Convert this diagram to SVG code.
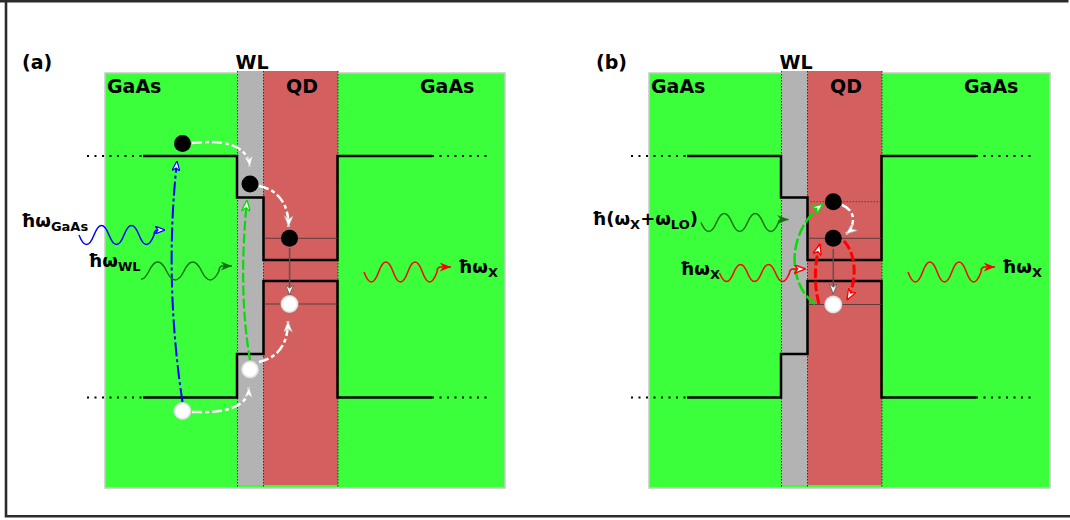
<svg xmlns="http://www.w3.org/2000/svg" width="1070" height="520" viewBox="0 0 1070 520">
<style>
.frame{fill:none;stroke:#2b2b2b;stroke-width:2.6}
.gaas{fill:#3cff3c;stroke:#c8c8c8;stroke-width:1.5}
.wl{fill:#b3b3b3}
.qd{fill:#d45f5f}
.edge{fill:none;stroke:#333;stroke-width:1;stroke-dasharray:1.5 1.5}
.band{fill:none;stroke:#000;stroke-width:2.5}
.dots{fill:none;stroke:#000;stroke-width:2;stroke-dasharray:2 5.5}
.lvl{fill:none;stroke:#333;stroke-width:1;opacity:.75}
.lvld{fill:none;stroke:#333;stroke-width:1;opacity:.75;stroke-dasharray:1.5 1.5}
.lbl{font-family:"DejaVu Sans","Liberation Sans",sans-serif;font-weight:bold;font-size:19px;fill:#000}
.ph{font-size:18px}
.sub{font-size:13px}
.el{fill:#000}
.ho{fill:url(#hg)}
.wave{fill:none;stroke-width:1.5}
.wdash{fill:none;stroke:#fff;stroke-width:2.5;stroke-dasharray:10 3 4 3}
.gline{fill:none;stroke:#555;stroke-width:1.5}
</style>
<defs>
<radialGradient id="hg" cx="0.5" cy="0.5" r="0.5">
<stop offset="0.7" stop-color="#fff"/>
<stop offset="1" stop-color="#cfcfcf"/>
</radialGradient>
<marker id="aw" viewBox="0 0 10 8" refX="10" refY="4" markerWidth="12" markerHeight="9" orient="auto" markerUnits="userSpaceOnUse"><path d="M10,4 L0,0 L3,4 L0,8 Z" fill="#fff" stroke="#aaa" stroke-width="0.6"/></marker>
<marker id="ag" viewBox="0 0 10 8" refX="10" refY="4" markerWidth="11" markerHeight="8" orient="auto" markerUnits="userSpaceOnUse"><path d="M10,4 L0,0 L3,4 L0,8 Z" fill="#f2f2f2" stroke="#555" stroke-width="0.8"/></marker>
<marker id="ab" viewBox="0 0 10 8" refX="10" refY="4" markerWidth="10" markerHeight="8" orient="auto" markerUnits="userSpaceOnUse"><path d="M10,4 L0,0 L3,4 L0,8 Z" fill="#fff" stroke="#00f" stroke-width="1.2"/></marker>
<marker id="agn" viewBox="0 0 10 8" refX="10" refY="4" markerWidth="12" markerHeight="9" orient="auto" markerUnits="userSpaceOnUse"><path d="M10,4 L0,0 L3,4 L0,8 Z" fill="#fff" stroke="#00e000" stroke-width="1.2"/></marker>
<marker id="aro" viewBox="0 0 10 8" refX="10" refY="4" markerWidth="12" markerHeight="9" orient="auto" markerUnits="userSpaceOnUse"><path d="M10,4 L0,0 L3,4 L0,8 Z" fill="#fff" stroke="#f00" stroke-width="1.2"/></marker>
<marker id="ar" viewBox="0 0 10 8" refX="10" refY="4" markerWidth="13" markerHeight="9" orient="auto" markerUnits="userSpaceOnUse"><path d="M10,4 L0,0 L3,4 L0,8 Z" fill="#f00"/></marker>
<marker id="adg" viewBox="0 0 10 8" refX="10" refY="4" markerWidth="13" markerHeight="9" orient="auto" markerUnits="userSpaceOnUse"><path d="M10,4 L0,0 L3,4 L0,8 Z" fill="#167016"/></marker>
</defs>
<rect width="1070" height="520" fill="#fff"/>
<path class="frame" d="M0,1.2 H1068.5 M6,0 V517.5 M4.7,516.3 H1070"/>

<g id="region-a">
<rect class="gaas" x="105" y="73" width="400" height="415"/>
<rect class="wl" x="237.5" y="71" width="26" height="414"/>
<rect class="qd" x="263.5" y="71" width="74.5" height="414"/>
<path class="edge" d="M237.5,71 V488 M263.5,71 V488 M338,71 V488"/>
<path class="band" d="M143,156 H237 V197.5 H263.5 V260 H337.5 V156 H432"/>
<path class="band" d="M143,397.5 H237 V354 H263.5 V281 H337.5 V397.5 H432"/>
<path class="dots" d="M87,156 H143 M432,156 H488 M87,397.5 H143 M432,397.5 H488"/>
<path class="lvl" d="M263.5,238.3 H338 M263.5,304 H338"/>
</g>

<g id="region-b">
<rect class="gaas" x="649" y="73" width="401" height="415"/>
<rect class="wl" x="781.5" y="71" width="26" height="414"/>
<rect class="qd" x="807.5" y="71" width="74.5" height="414"/>
<path class="edge" d="M781.5,71 V488 M807.5,71 V488 M882,71 V488"/>
<path class="band" d="M687,156 H781 V197.5 H807.5 V260 H881.5 V156 H976"/>
<path class="band" d="M687,397.5 H781 V354 H807.5 V281 H881.5 V397.5 H976"/>
<path class="dots" d="M631,156 H687 M976,156 H1032 M631,397.5 H687 M976,397.5 H1032"/>
<path class="lvld" d="M807.5,201.7 H882"/>
<path class="lvl" d="M807.5,238.3 H882 M807.5,304.5 H882"/>
</g>

<g id="connectors">
<path d="M182.5,402 Q164,280 177,161" fill="none" stroke="#00f" stroke-width="2" stroke-dasharray="14 3 3 3" marker-end="url(#ab)"/>
<path d="M250,360 Q238,290 247,200" fill="none" stroke="#00e000" stroke-width="2.2" stroke-dasharray="10 3" marker-end="url(#agn)"/>
<path class="wdash" d="M192,143 C222,140 247,143 250,167" marker-end="url(#aw)"/>
<path class="wdash" d="M259,186 C279,190 289,205 288.5,227" marker-end="url(#aw)"/>
<path class="gline" d="M289.6,248 V295" marker-end="url(#ag)"/>
<path class="wdash" d="M259,362 C280,357 288,342 288,321" marker-end="url(#aw)"/>
<path class="wdash" d="M192,412 C225,413 248,408 249,387" marker-end="url(#aw)"/>
<path class="wave" stroke="#00f" d="M79,235 q7.5,19 15,0 t15,0 t15,0 t15,0 t15,0 q0,-5 4,-5 h7" marker-end="url(#ab)"/>
<path class="wave" stroke="#167016" d="M141,279 C144,279.5 147,275 149,271 q8.75,-18 17.5,0 t17.5,0 t17.5,0 t17.5,0 q0,-5 4,-5 h9" marker-end="url(#adg)"/>
<path class="wave" stroke="#f00" d="M364,272 q7.3,20 14.6,0 t14.6,0 t14.6,0 t14.6,0 t14.6,0 q0,-5 4,-5 h10" marker-end="url(#ar)"/>

<path d="M815,304 C788,285 785,232 823,204" fill="none" stroke="#00e000" stroke-width="2.5" stroke-dasharray="12 3" marker-end="url(#agn)"/>
<path class="wdash" d="M842,205 C856,210 856,226 846,234" marker-end="url(#aw)"/>
<path class="gline" d="M833.3,249 V294" marker-end="url(#ag)"/>
<path d="M819,304 C814,285 814,265 820,244" fill="none" stroke="#f00" stroke-width="3" stroke-dasharray="10 3" marker-end="url(#aro)"/>
<path d="M844,241 C857,255 857,282 847,300" fill="none" stroke="#f00" stroke-width="3" stroke-dasharray="10 3" marker-end="url(#aro)"/>
<path class="wave" stroke="#167016" d="M701,222.5 q7.75,18 15.5,0 t15.5,0 t15.5,0 t15.5,0 t15.5,0 q0,-3 4,-3 h6" marker-end="url(#adg)"/>
<path class="wave" stroke="#f00" d="M719.5,273 q7,17 14,0 t14,0 t14,0 t14,0 t14,0 q0,-4 4,-4 h12" marker-end="url(#aro)"/>
<path class="wave" stroke="#f00" d="M908,272 q7.3,20 14.6,0 t14.6,0 t14.6,0 t14.6,0 t14.6,0 q0,-5 4,-5 h10" marker-end="url(#ar)"/>
</g>

<g id="electron-gaas-a"><circle class="el" cx="182.5" cy="143.5" r="8.5"/></g>
<g id="electron-wl-a"><circle class="el" cx="250" cy="184" r="8.5"/></g>
<g id="electron-qd-a"><circle class="el" cx="289.5" cy="238.3" r="8.5"/></g>
<g id="hole-qd-a"><circle class="ho" cx="289.5" cy="304" r="9"/></g>
<g id="hole-wl-a"><circle class="ho" cx="250" cy="369.5" r="9"/></g>
<g id="hole-gaas-a"><circle class="ho" cx="182.5" cy="411" r="9"/></g>
<g id="electron-qd2-b"><circle class="el" cx="833.3" cy="201.7" r="8.5"/></g>
<g id="electron-qd-b"><circle class="el" cx="833.3" cy="238.3" r="8.5"/></g>
<g id="hole-qd-b"><circle class="ho" cx="833.3" cy="304.5" r="9"/></g>

<g id="labels-a" class="lbl">
<text x="22" y="69">(a)</text>
<text x="252" y="68.5" text-anchor="middle">WL</text>
<text x="107" y="93">GaAs</text>
<text x="302" y="93" text-anchor="middle">QD</text>
<text x="420" y="93">GaAs</text>
<text class="ph" x="21" y="227">ħω<tspan class="sub" dy="4">GaAs</tspan></text>
<text class="ph" x="88" y="267">ħω<tspan class="sub" dy="4">WL</tspan></text>
<text class="ph" x="458" y="273">ħω<tspan class="sub" dy="4">X</tspan></text>
</g>
<g id="labels-b" class="lbl">
<text x="596" y="69">(b)</text>
<text x="796" y="68.5" text-anchor="middle">WL</text>
<text x="651" y="93">GaAs</text>
<text x="846" y="93" text-anchor="middle">QD</text>
<text x="964" y="93">GaAs</text>
<text class="ph" x="592" y="225">ħ(ω<tspan class="sub" dy="4">X</tspan><tspan dy="-4">+ω</tspan><tspan class="sub" dy="4">LO</tspan><tspan dy="-4">)</tspan></text>
<text class="ph" x="680" y="275">ħω<tspan class="sub" dy="4">X</tspan></text>
<text class="ph" x="1002" y="273">ħω<tspan class="sub" dy="4">X</tspan></text>
</g>
</svg>
